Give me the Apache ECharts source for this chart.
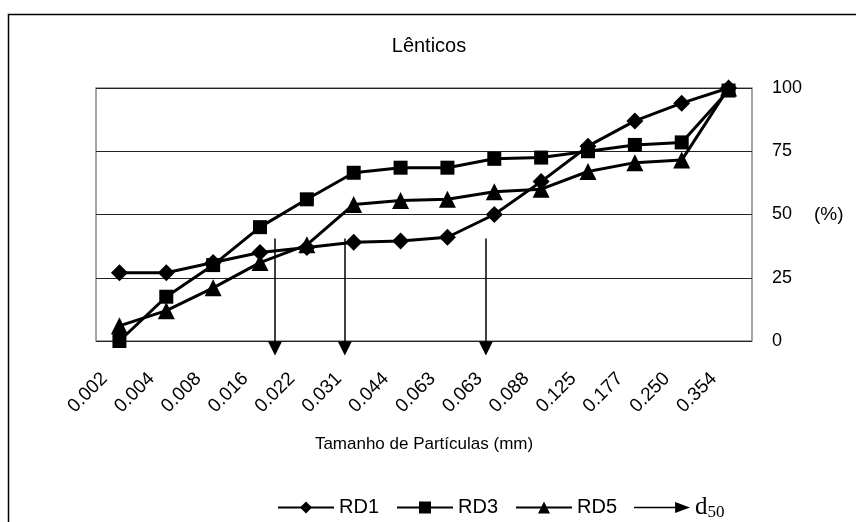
<!DOCTYPE html>
<html>
<head>
<meta charset="utf-8">
<script src="https://cdn.jsdelivr.net/npm/echarts@6/dist/echarts.min.js"></script>
<style>
html,body{margin:0;padding:0;background:#fff;}
#chart{width:856px;height:522px;}
</style>
</head>
<body>
<div id="chart"></div>
<script>
var categories = ['0.002','0.004','0.008','0.016','0.022','0.031','0.044','0.063','0.063','0.088','0.125','0.177','0.250','0.354'];
var rd1 = [27, 27, 31, 35, 37, 39, 39.5, 41, 50, 63, 77, 87, 94, 100];
var rd3 = [0, 17.5, 30, 45, 56, 66.5, 68.5, 68.5, 72, 72.5, 75, 77.5, 78.5, 99];
var rd5 = [6, 12, 21, 31, 38, 54, 55.5, 56, 59, 60, 67, 70.5, 71.5, 100];
var yTicks = [0, 25, 50, 75, 100];
// d50 positions (in category index units) and arrow extent (in %)
var d50Pos = [3.32, 4.81, 7.82];
var d50Top = 40.5;
var d50Bottom = -3;

var font = 'Liberation Sans, Arial, sans-serif';
var serif = 'Liberation Serif, Times New Roman, serif';
var chart = echarts.init(document.getElementById('chart'), null, {renderer: 'canvas'});

function lineSeries(name, data, symbol, size) {
  return {
    name: name, type: 'line', data: data,
    symbol: symbol, symbolSize: size,
    itemStyle: {color: '#000'},
    lineStyle: {color: '#000', width: 3},
    emphasis: {disabled: true},
    animation: false
  };
}

var arrowData = d50Pos.map(function (p) {
  return {coords: [[p, d50Top], [p, d50Bottom]]};
});

chart.setOption({
  animation: false,
  backgroundColor: '#fff',
  graphic: [{
    type: 'rect', z: -10,
    shape: {x: 8.5, y: 14.5, width: 900, height: 600},
    style: {fill: 'none', stroke: '#000', lineWidth: 1.5}
  }],
  title: {
    text: 'Lênticos', left: 424, top: 31, textAlign: 'center',
    textStyle: {fontFamily: font, fontSize: 20, fontWeight: 'normal', color: '#000'}
  },
  legend: {
    left: 272, top: 490,
    itemWidth: 56, itemHeight: 15, itemGap: 17,
    textStyle: {fontFamily: font, fontSize: 20, color: '#000',
      rich: {
        d: {fontFamily: serif, fontSize: 25, color: '#000'},
        s: {fontFamily: serif, fontSize: 17, color: '#000', padding: [10, 0, 0, 0]}
      }
    },
    formatter: function (n) { return n === 'd50' ? '{d|d}{s|50}' : n; },
    data: [
      {name: 'RD1'}, {name: 'RD3'}, {name: 'RD5'},
      {name: 'd50', icon: 'path://M0,5.2 L46,5.2 L46,6.8 L0,6.8 Z M44,0 L60,6 L44,12 Z',
       itemStyle: {color: '#000', borderWidth: 0}, lineStyle: {width: 0}}
    ]
  },
  grid: {left: 96, top: 88, right: 104, bottom: 181, show: true, borderColor: '#888', borderWidth: 1.5, containLabel: false},
  xAxis: [{
    type: 'category', data: categories, boundaryGap: true,
    axisLine: {show: false}, axisTick: {show: false},
    axisLabel: {rotate: 45, interval: 0, margin: 20, padding: [0, 21, 0, 0], fontFamily: font, fontSize: 19, color: '#000'},
    name: 'Tamanho de Partículas (mm)', nameLocation: 'middle', nameGap: 95,
    nameTextStyle: {fontFamily: font, fontSize: 17, color: '#000'}
  }, {
    type: 'value', min: -0.5, max: 13.5, show: false
  }],
  yAxis: {
    type: 'value', position: 'right', min: yTicks[0], max: yTicks[yTicks.length - 1], interval: 25,
    axisLine: {show: false}, axisTick: {show: false},
    axisLabel: {margin: 20, fontFamily: font, fontSize: 18, color: '#000'},
    splitLine: {lineStyle: {color: '#222', width: 1}},
    name: '(%)', nameLocation: 'middle', nameRotate: 0, nameGap: 62,
    nameTextStyle: {fontFamily: font, fontSize: 19, color: '#000', align: 'left'}
  },
  series: [
    lineSeries('RD1', rd1, 'diamond', 17),
    lineSeries('RD3', rd3, 'rect', 14),
    lineSeries('RD5', rd5, 'triangle', 17),
    {
      name: 'd50', type: 'lines', coordinateSystem: 'cartesian2d',
      xAxisIndex: 1, yAxisIndex: 0, clip: false,
      symbol: ['none', 'triangle'], symbolSize: [12, 14],
      lineStyle: {color: '#000', width: 1.5, opacity: 1, curveness: 0},
      itemStyle: {color: '#000'},
      data: arrowData, silent: true
    }
  ]
});
</script>
</body>
</html>
